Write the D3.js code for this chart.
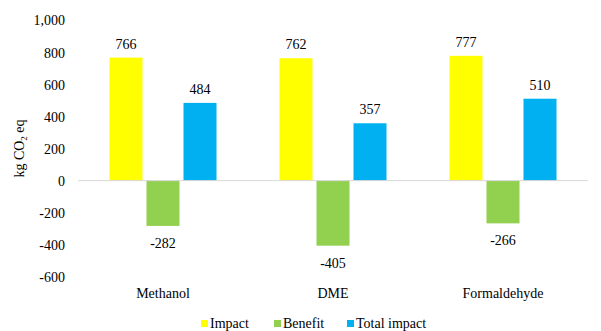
<!DOCTYPE html>
<html>
<head>
<meta charset="utf-8">
<script src="https://cdn.jsdelivr.net/npm/d3@7/dist/d3.min.js"></script>
<style>
  body { margin: 0; background: #fff; }
</style>
</head>
<body>
<svg id="chart" width="601" height="331"></svg>
<script>
// Emissions per product, kg CO2 eq
const categories = ["Methanol", "DME", "Formaldehyde"];
const seriesNames = ["Impact", "Benefit", "Total impact"];
const impact = [766, 762, 777];
const benefit = [-282, -405, -266];
const totalImpact = [484, 357, 510];
const yTicks = [-600, -400, -200, 0, 200, 400, 600, 800, 1000];
const colors = ["#FFFF00", "#92D050", "#00B0F0"];

const series = [impact, benefit, totalImpact];
const FONT = "Liberation Serif";
const FS = 14;

// Thousands separator with a plain hyphen for negatives
const fmt = d3.formatLocale({ decimal: ".", thousands: ",", grouping: [3], currency: ["", ""], minus: "-" }).format(",");

const svg = d3.select("#chart");
const plotLeft = 78, plotRight = 588, plotTop = 20, plotBottom = 277;

const x = d3.scaleBand().domain(categories).range([plotLeft, plotRight]).paddingInner(0).paddingOuter(0);
const y = d3.scaleLinear().domain([-600, 1000]).range([plotBottom, plotTop]);

const barW = 33, gap = 4;
const groupW = barW * 3 + gap * 2;
const xs = d3.scaleBand().domain(seriesNames).range([0, groupW]).paddingInner(gap / (barW + gap));

// Y axis labels
const yAxis = d3.axisLeft(y).tickValues(yTicks).tickSize(0).tickPadding(0).tickFormat(fmt);
const gy = svg.append("g").attr("transform", `translate(${plotLeft - 13},0)`).call(yAxis);
gy.select(".domain").remove();
gy.attr("font-family", null).attr("font-size", null);
gy.selectAll("text").style("font-family", FONT).style("font-size", FS + "px")
  .attr("fill", "#000").attr("dy", "0.35em");

// Axis title
const title = svg.append("text")
  .attr("transform", `translate(24,${y(200)}) rotate(-90)`)
  .attr("text-anchor", "middle")
  .style("font-family", FONT).style("font-size", FS + "px");
title.append("tspan").text("kg CO");
title.append("tspan").style("font-size", "9px").attr("dy", 3).text("2");
title.append("tspan").attr("dy", -3).text(" eq");

// Bars
const groups = svg.selectAll("g.cat").data(categories).join("g")
  .attr("class", "cat")
  .attr("transform", d => `translate(${x(d) + (x.bandwidth() - groupW) / 2},0)`);

seriesNames.forEach((name, si) => {
  groups.append("rect")
    .attr("x", xs(name))
    .attr("width", xs.bandwidth())
    .attr("y", (d, i) => y(Math.max(0, series[si][i])))
    .attr("height", (d, i) => Math.abs(y(series[si][i]) - y(0)))
    .attr("fill", colors[si]);
  groups.append("text")
    .attr("x", xs(name) + xs.bandwidth() / 2)
    .attr("y", (d, i) => series[si][i] >= 0 ? y(series[si][i]) - 9 : y(series[si][i]) + 22)
    .attr("text-anchor", "middle")
    .style("font-family", FONT).style("font-size", FS + "px")
    .text((d, i) => fmt(series[si][i]));
});

// Zero line
svg.append("line").attr("x1", plotLeft).attr("x2", plotRight)
  .attr("y1", y(0)).attr("y2", y(0))
  .attr("stroke", "#d9d9d9").attr("stroke-width", 1);

// Category labels
const xAxis = d3.axisBottom(x).tickSize(0).tickPadding(0);
const gx = svg.append("g").attr("transform", `translate(0,${plotBottom + 11})`).call(xAxis);
gx.select(".domain").remove();
gx.attr("font-family", null).attr("font-size", null);
gx.selectAll("text").style("font-family", FONT).style("font-size", FS + "px").attr("fill", "#000");

// Legend
const legendX = [201, 274, 347];
const legend = svg.append("g");
seriesNames.forEach((name, i) => {
  legend.append("rect").attr("x", legendX[i]).attr("y", 320).attr("width", 7).attr("height", 7).attr("fill", colors[i]);
  legend.append("text").attr("x", legendX[i] + 9).attr("y", 328)
    .style("font-family", FONT).style("font-size", FS + "px").text(name);
});
</script>
</body>
</html>
